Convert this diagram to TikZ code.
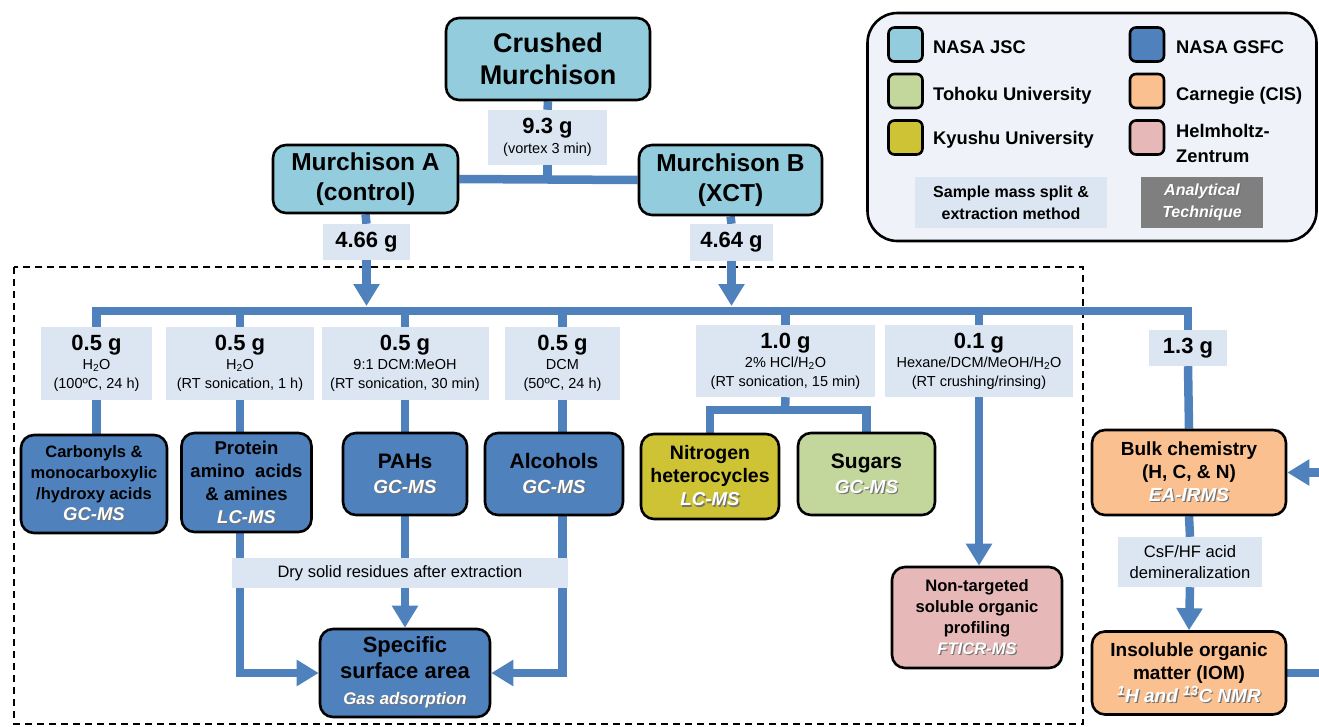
\documentclass[tikz,border=0pt]{standalone}
\usepackage{fontspec}
\setmainfont{Liberation Sans}
\usetikzlibrary{arrows.meta}
\definecolor{jsc}{HTML}{93CDDD}
\definecolor{gsfc}{HTML}{4F81BD}
\definecolor{tohoku}{HTML}{C3D69B}
\definecolor{kyushu}{HTML}{CDC334}
\definecolor{cis}{HTML}{FAC090}
\definecolor{hz}{HTML}{E6B9B8}
\definecolor{labfill}{HTML}{DCE6F2}
\definecolor{lineblue}{HTML}{4F81BD}
\definecolor{legfill}{HTML}{EFF2F8}
\definecolor{techgray}{HTML}{7F7F7F}
\newcommand{\fs}[2]{\fontsize{#1}{#2}\selectfont}
\newcommand{\mass}[1]{{\fs{22}{22}\bfseries #1}}
\newcommand{\tech}[1]{{\bfseries\itshape\rlap{\kern1.2pt\raisebox{-1.2pt}{\color{black!55}#1}}{\color{white}#1}}}
\pgfdeclarelayer{bg}
\pgfsetlayers{bg,main}
\tikzset{
  box/.style={draw=black, line width=2.6pt, rounded corners=13pt, align=center, inner sep=0pt, font=\fs{17}{21}\bfseries},
  lab/.style={fill=labfill, align=center, inner sep=0pt, font=\fs{14.5}{19}},
  conn/.style={draw=lineblue, line width=8.5pt},
  arr/.style={conn, -{Triangle[width=25pt,length=22pt]}},
  sq/.style={draw=black, line width=2.6pt, rounded corners=6pt, minimum width=34pt, minimum height=34pt, inner sep=0pt},
  legtext/.style={anchor=west, inner sep=0pt, align=left, font=\fs{18.3}{25}\bfseries},
}
\begin{document}
\begin{tikzpicture}[x=1pt,y=-1pt]
\useasboundingbox (0,0) rectangle (1319,726);
\coordinate (bar) at (0,311);
\coordinate (bartop) at (0,306);
\coordinate (split) at (785,410);
\coordinate (edge) at (1325,0);

% top
\node[box, fill=jsc, minimum width=204pt, minimum height=82pt, font=\fs{27}{32}\bfseries] (crushed) at (548,59) {Crushed\\Murchison};
\node[box, fill=jsc, minimum width=185pt, minimum height=68pt, font=\fs{24.5}{30}\bfseries] (mA) at (365.5,179) {Murchison A\\(control)};
\node[box, fill=jsc, minimum width=183pt, minimum height=70pt, font=\fs{24.5}{30}\bfseries] (mB) at (730.5,180) {Murchison B\\(XCT)};
\node[lab, minimum width=119pt, minimum height=55pt, font=\fs{14.5}{20}] (l93) at (547.5,137.5) {\mass{9.3 g}\\(vortex 3 min)};
\node[lab, minimum width=87pt, minimum height=36pt] (l466) at (366.5,242) {\mass{4.66 g}};
\node[lab, minimum width=83pt, minimum height=37pt] (l464) at (731.5,242.5) {\mass{4.64 g}};

% extraction labels
\node[lab, minimum width=111pt, minimum height=73pt] (l1) at (96.5,363.5) {\mass{0.5 g}\\H\textsubscript{2}O\\(100ºC, 24 h)};
\node[lab, minimum width=148pt, minimum height=73pt] (l2) at (240,363.5) {\mass{0.5 g}\\H\textsubscript{2}O\\(RT sonication, 1 h)};
\node[lab, minimum width=167pt, minimum height=73pt] (l3) at (405,363.5) {\mass{0.5 g}\\9:1 DCM:MeOH\\(RT sonication, 30 min)};
\node[lab, minimum width=115pt, minimum height=73pt] (l4) at (562.5,363.5) {\mass{0.5 g}\\DCM\\(50ºC, 24 h)};
\node[lab, minimum width=179pt, minimum height=72pt] (l5) at (785.5,361) {\mass{1.0 g}\\2\% HCl/H\textsubscript{2}O\\(RT sonication, 15 min)};
\node[lab, minimum width=188pt, minimum height=72pt] (l6) at (979,361) {\mass{0.1 g}\\Hexane/DCM/MeOH/H\textsubscript{2}O\\(RT crushing/rinsing)};
\node[lab, minimum width=78pt, minimum height=36pt] (l7) at (1188,348) {\mass{1.3 g}};

% analytical boxes
\node[box, fill=gsfc, minimum width=146pt, minimum height=98pt, font=\fs{16.5}{21}\bfseries] (carb) at (94,484) {Carbonyls \&\\monocarboxylic\\/hydroxy acids\\{\fs{18.5}{21}\tech{GC-MS}}};
\node[box, fill=gsfc, minimum width=130pt, minimum height=99pt, font=\fs{18.5}{23}\bfseries] (prot) at (246.5,482.5) {Protein\\amino~~acids\\\&~amines\\\tech{LC-MS}};
\node[box, fill=gsfc, minimum width=124pt, minimum height=82pt, font=\fs{21}{25}\bfseries] (pahs) at (405,474) {PAHs\\{\fs{19}{23}\tech{GC-MS}}};
\node[box, fill=gsfc, minimum width=138pt, minimum height=82pt, font=\fs{21}{25}\bfseries] (alc) at (554,474) {Alcohols\\{\fs{19}{23}\tech{GC-MS}}};
\node[box, fill=kyushu, minimum width=138pt, minimum height=85pt, font=\fs{19.5}{23}\bfseries] (nitro) at (710,476.5) {Nitrogen\\heterocycles\\{\fs{18.7}{23}\tech{LC-MS}}};
\node[box, fill=tohoku, minimum width=137pt, minimum height=82pt, font=\fs{21}{25}\bfseries] (sugar) at (866.5,474) {Sugars\\{\fs{19}{23}\tech{GC-MS}}};
\node[box, fill=hz, minimum width=170pt, minimum height=101pt, font=\fs{16.6}{21}\bfseries] (nonT) at (977,617.5) {Non-targeted\\soluble organic\\profiling\\\tech{FTICR-MS}};
\node[box, fill=cis, minimum width=194pt, minimum height=85pt, font=\fs{19}{23}\bfseries] (bulk) at (1189,472.5) {Bulk chemistry\\(H, C, \& N)\\\tech{EA-IRMS}};
\node[lab, minimum width=144pt, minimum height=50pt, font=\fs{16.6}{21}] (csf) at (1190,562) {CsF/HF acid\\demineralization};
\node[box, fill=cis, minimum width=194pt, minimum height=83pt, font=\fs{19}{23}\bfseries] (iom) at (1189,673) {Insoluble organic\\matter (IOM)\\\tech{\textsuperscript{1}H and \textsuperscript{13}C NMR}};
\node[box, fill=gsfc, minimum width=170pt, minimum height=88pt, font=\fs{22}{26}\bfseries] (sp) at (405,673) {Specific\\surface area\\{\fs{16.8}{21}\tech{Gas adsorption}}};
\node[lab, minimum width=336pt, minimum height=30pt, font=\fs{16.5}{20}] (dry) at (400,573) {Dry solid residues after extraction};

% legend
\node[draw=black, line width=2.6pt, rounded corners=30pt, fill=legfill, minimum width=449pt, minimum height=228pt, inner sep=0pt] (legend) at (1092,127) {};
\node[sq, fill=jsc] (sqjsc) at (905.5,44.5) {};
\node[sq, fill=tohoku] (sqtoh) at (905.5,91) {};
\node[sq, fill=kyushu] (sqkyu) at (905.5,137.5) {};
\node[sq, fill=gsfc] (sqgsfc) at (1147,44.5) {};
\node[sq, fill=cis] (sqcis) at (1147,91) {};
\node[sq, fill=hz] (sqhz) at (1147,137.5) {};
\node[legtext] (tjsc) at (933,47) {NASA JSC};
\node[legtext] (ttoh) at (933,96) {Tohoku University};
\node[legtext] (tkyu) at (933,140) {Kyushu University};
\node[legtext] (tgsfc) at (1176,47) {NASA GSFC};
\node[legtext] (tcis) at (1176,96) {Carnegie (CIS)};
\node[legtext] (thz) at (1176,143) {Helmholtz-\\Zentrum};
\node[lab, minimum width=192pt, minimum height=51pt, font=\fs{16}{22}\bfseries] (legsample) at (1011,202.5) {Sample mass split \&\\extraction method};
\node[fill=techgray, align=center, inner sep=0pt, minimum width=122pt, minimum height=51pt, font=\fs{16}{22}] (legtech) at (1202,202.5) {\tech{Analytical}\\\tech{Technique}};

\begin{pgfonlayer}{bg}
\draw[line width=2.4pt, dash pattern=on 7pt off 5pt] (14,267) rectangle (1083,724);
\draw[conn] (crushed.south) -- (l93.north);
\draw[conn] (l93.south) -- (l93.south |- mA.east);
\draw[conn] (mA.east) -- (mB.west);
\draw[conn] (mA.south) -- (l466.north);
\draw[conn] (mB.south) -- (l464.north);
\draw[arr] (l466.south) -- (l466.south |- bartop);
\draw[arr] (l464.south) -- (l464.south |- bartop);
\draw[conn] (l1.north) |- (l7.north |- bar) -- (l7.north);
\draw[conn] (l2.north |- bar) -- (l2.north);
\draw[conn] (l3.north |- bar) -- (l3.north);
\draw[conn] (l4.north |- bar) -- (l4.north);
\draw[conn] (l5.north |- bar) -- (l5.north);
\draw[conn] (l6.north |- bar) -- (l6.north);
\draw[conn] (l1.south) -- (l1.south |- carb.north);
\draw[conn] (l2.south) -- (l2.south |- prot.north);
\draw[conn] (l3.south) -- (l3.south |- pahs.north);
\draw[conn] (l4.south) -- (l4.south |- alc.north);
\draw[conn] (l5.south) -- (split);
\draw[conn] (nitro.north) |- (sugar.north |- split) -- (sugar.north);
\draw[arr] (l6.south) -- (l6.south |- nonT.north);
\draw[conn] (l7.south) -- (bulk.north);
\draw[conn] (bulk.south) -- (csf.north);
\draw[arr] (csf.south) -- (iom.north);
\draw[conn] (iom.east) -- (iom.east -| edge);
\draw[arr] (bulk.east -| edge) -- (bulk.east);
\draw[arr] (l2.south |- prot.south) |- (sp.west);
\draw[arr] (l4.south |- alc.south) |- (sp.east);
\draw[arr] (pahs.south) -- (sp.north);
\end{pgfonlayer}
\end{tikzpicture}
\end{document}
